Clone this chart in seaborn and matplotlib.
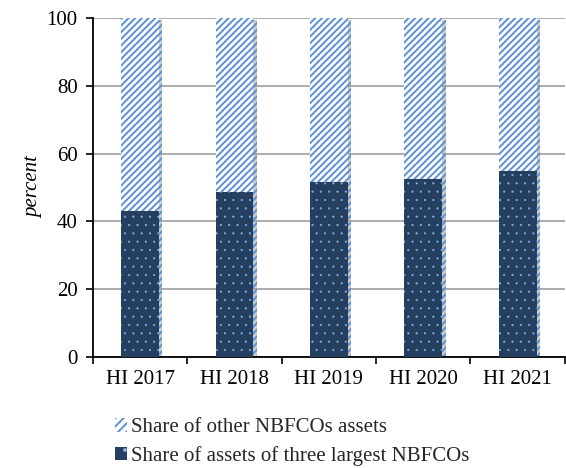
import matplotlib
matplotlib.use("Agg")
import matplotlib.pyplot as plt
import matplotlib.patheffects as pe
from matplotlib.patches import Patch
import seaborn as sns
import numpy as np

# data
periods = ["HI 2017", "HI 2018", "HI 2019", "HI 2020", "HI 2021"]
largest_three = [43.2, 48.7, 51.6, 52.4, 55.0]
other_nbfcos = [56.8, 51.3, 48.4, 47.6, 45.0]
labels = ["Share of other NBFCOs assets", "Share of assets of three largest NBFCOs"]

dark = "#243F60"
light = "#5B8FD9"
dots = "#8DB4E2"
stripe_lw = 1.4
dot_lw = 0.3


def set_hatch_lw(patch, lw):
    if hasattr(patch, "set_hatch_linewidth"):
        patch.set_hatch_linewidth(lw)
    else:
        patch._hatch_linewidth = lw


sns.set_theme(style="white")
plt.rcParams["font.family"] = ["Liberation Serif", "DejaVu Serif"]

fig = plt.figure(figsize=(5.66, 4.68), dpi=100)
ax = fig.add_axes([0.164, 0.237, 0.834, 0.7245])

totals = np.array(largest_three) + np.array(other_nbfcos)
shadow = [pe.SimplePatchShadow(offset=(2.5, -1.5), shadow_rgbFace="#999999", alpha=0.5), pe.Normal()]

sns.barplot(x=periods, y=totals, ax=ax, color="white", saturation=1, width=0.4,
            hatch="/////", edgecolor=light, linewidth=0, zorder=2)
sns.barplot(x=periods, y=largest_three, ax=ax, color=dark, saturation=1, width=0.4,
            hatch="..", edgecolor=dots, linewidth=0, zorder=3)
n = len(periods)
for p in ax.patches[:n]:
    set_hatch_lw(p, stripe_lw)
    p.set_path_effects(shadow)
for p in ax.patches[n:]:
    set_hatch_lw(p, dot_lw)

ax.set_xlim(-0.5, n - 0.5)
ax.set_ylim(0, 100)
ax.set_yticks(range(0, 101, 20))
ax.yaxis.grid(True, color="#A6A6A6", linewidth=1.3, zorder=0)
ax.set_axisbelow(True)

# category labels at centres, tick marks at the boundaries
ax.set_xticks(np.arange(-0.5, n), minor=False)
ax.set_xticklabels([""] * (n + 1))
ax.set_xticks(np.arange(n), minor=True)
ax.set_xticklabels(periods, minor=True)
ax.tick_params(axis="x", which="major", direction="out", length=5, width=1.2, color="black", bottom=True)
ax.tick_params(axis="x", which="minor", length=0, labelsize=15, pad=9, colors="black")
ax.tick_params(axis="y", direction="out", length=5, width=1.2, color="black", left=True,
               labelsize=15, pad=6, labelcolor="black")

for s in ["top", "right"]:
    ax.spines[s].set_visible(False)
for s in ["left", "bottom"]:
    ax.spines[s].set_color("black")
    ax.spines[s].set_linewidth(1.3)

ax.set_xlabel("")
ax.set_ylabel("percent", fontsize=15, fontstyle="italic", color="black", labelpad=2)

leg_other = Patch(facecolor="white", edgecolor=light, hatch="////", linewidth=0)
leg_large = Patch(facecolor=dark, edgecolor=dots, hatch=".", linewidth=0)
leg = fig.legend([leg_other, leg_large], labels, loc="upper left", bbox_to_anchor=(0.203, 0.106),
                 frameon=False, fontsize=15, handlelength=0.6, handleheight=0.6, handletextpad=0.15,
                 labelspacing=0.4, borderaxespad=0, borderpad=0)
lp = leg.get_patches()
set_hatch_lw(lp[0], stripe_lw)
set_hatch_lw(lp[1], dot_lw)

fig.savefig("out.png", dpi=100)
